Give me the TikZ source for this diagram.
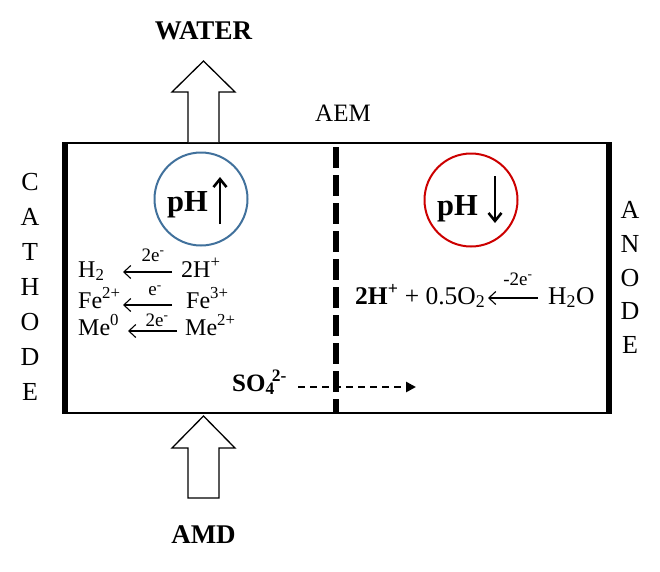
\documentclass[tikz,border=0pt]{standalone}
\usepackage{fontspec}
\setmainfont{Liberation Serif}
\usetikzlibrary{arrows.meta}
\definecolor{phblue}{RGB}{65,113,156}
\definecolor{phred}{RGB}{204,0,0}
\begin{document}
\begin{tikzpicture}[x=1pt,y=-1pt,
  txt/.style={inner sep=0pt, font=\fontsize{24}{28}\selectfont},
  rtxt/.style={inner sep=0pt, font=\fontsize{25.5}{30}\selectfont},
  lbl/.style={inner sep=0pt, font=\fontsize{19}{23}\selectfont},
  bigbold/.style={inner sep=0pt, font=\fontsize{27}{32}\selectfont\bfseries},
  letter/.style={inner sep=0pt, font=\fontsize{26}{30}\selectfont},
  phtxt/.style={inner sep=0pt, anchor=base west, font=\fontsize{30.5}{35}\selectfont\bfseries},
  phcircle/.style={circle, line width=2pt, minimum size=93pt, inner sep=0pt},
  pharrow/.style={line width=2.6pt, -{Straight Barb[length=8pt,width=13pt]}},
  rxn/.style={line width=1.1pt, -{Straight Barb[length=7pt,width=13pt]}},
  flowarrow/.style={line width=1.3pt, fill=white, line join=miter},
  electrode/.style={line width=6pt},
]
\useasboundingbox (0,0) rectangle (660,571);

% cell
\draw[line width=1.2pt] (65,143) rectangle (608,413);
\draw[electrode] (64.5,142) -- (64.5,413.6);
\draw[electrode] (608.5,142) -- (608.5,413.6);
% membrane
\draw[line width=6.5pt, dash pattern=on 21pt off 7pt] (336,147) -- (336,413);
\node[inner sep=0pt, font=\fontsize{25}{30}\selectfont] (aem) at (343,113) {AEM};

% water / AMD arrows
\draw[flowarrow] (188,142) -- (188,92) -- (172,92) -- (203.5,61) -- (235,92) -- (219,92) -- (219,142);
\node[bigbold] (water) at (203.5,31) {WATER};
\draw[flowarrow] (188,498) -- (188,448) -- (172,448) -- (203.5,416) -- (235,448) -- (219,448) -- (219,498) -- cycle;
\node[bigbold] (amd) at (203.5,535) {AMD};

% electrode labels
\foreach \l [count=\i from 0] in {C,A,T,H,O,D,E}
  \node[letter] (cat\i) at (30,182+35*\i) {\l};
\foreach \l [count=\i from 0] in {A,N,O,D,E}
  \node[letter] (an\i) at (630,210+33.8*\i) {\l};

% pH circles
\node[phcircle, draw=phblue] (phup) at (201,199) {};
\node[phtxt] (phL) at (167,211) {pH};
\coordinate (upA) at (220,224);
\coordinate (upB) at (220,177);
\draw[pharrow] (upA) -- (upB);

\node[phcircle, draw=phred] (phdown) at (471,200) {};
\node[phtxt] (phR) at (437,215) {pH};
\coordinate (dnA) at (495,176);
\coordinate (dnB) at (495,223);
\draw[pharrow] (dnA) -- (dnB);

% cathode reactions
\node[txt, anchor=base west] (h2) at (78,277) {H\textsubscript{2}};
\node[txt, anchor=base west] (hp) at (181,277) {2H\textsuperscript{+}};
\coordinate (r1a) at (172,272); \coordinate (r1b) at (123,272);
\draw[rxn] (r1a) -- (r1b);
\node[lbl] (e1) at (153,255) {2e\textsuperscript{-}};

\node[txt, anchor=base west] (fe2) at (78,308) {Fe\textsuperscript{2+}};
\node[txt, anchor=base west] (fe3) at (186,308) {Fe\textsuperscript{3+}};
\coordinate (r2a) at (172,305); \coordinate (r2b) at (123,305);
\draw[rxn] (r2a) -- (r2b);
\node[lbl] (e2) at (155,291) {e\textsuperscript{-}};

\node[txt, anchor=base west] (me0) at (78,335) {Me\textsuperscript{0}};
\node[txt, anchor=base west] (me2) at (185,335) {Me\textsuperscript{2+}};
\coordinate (r3a) at (177,331); \coordinate (r3b) at (128,331);
\draw[rxn] (r3a) -- (r3b);
\node[lbl] (e3) at (157,320) {2e\textsuperscript{-}};

% anode reaction
\node[rtxt, anchor=base west] (prod) at (355,304) {\textbf{2H\textsuperscript{+}} + 0.5O\textsubscript{2}};
\node[rtxt, anchor=base west] (h2o) at (548,304) {H\textsubscript{2}O};
\coordinate (r4a) at (538,298); \coordinate (r4b) at (488,298);
\draw[rxn] (r4a) -- (r4b);
\node[lbl] (e4) at (518,279) {-2e\textsuperscript{-}};

% sulfate migration
\node[inner sep=0pt, anchor=base west, font=\fontsize{25}{30}\selectfont\bfseries] (so4) at (232,391) {SO\textsubscript{4}\kern-3pt\textsuperscript{2-}};
\coordinate (soA) at (298,387);
\coordinate (soB) at (416,387);
\draw[line width=2.8pt, dash pattern=on 7pt off 5pt, -{Triangle[length=10pt,width=10pt]}] (soA) -- (soB);
\end{tikzpicture}
\end{document}
